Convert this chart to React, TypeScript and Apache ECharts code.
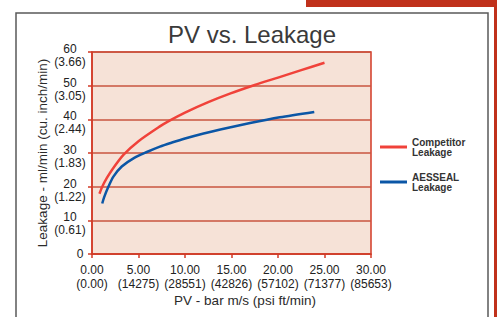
import React, { useEffect, useRef } from "react";
import * as echarts from "echarts";

const competitorX = [0.8, 1.1, 1.6, 2.2, 3.4, 5, 7.3, 8.2, 10, 12.5, 14.9, 17.5, 20, 22.5, 25];
const competitorY = [17.9, 20, 22.6, 25.2, 29.5, 33.5, 37.9, 39.4, 42, 45.1, 47.7, 50.2, 52.4, 54.6, 56.8];
const aessealX = [1.1, 1.3, 1.7, 2.3, 3.2, 4.5, 5.9, 7.3, 8.6, 10, 12, 13.8, 17, 20.2, 23.9];
const aessealY = [15.0, 16.8, 19.6, 23.0, 26.0, 28.5, 30.3, 31.9, 33.1, 34.3, 35.8, 37.0, 38.9, 40.6, 42.2];

const yTicks = [0, 10, 20, 30, 40, 50, 60];
const yTickSecondary = ["", "(0.61)", "(1.22)", "(1.83)", "(2.44)", "(3.05)", "(3.66)"];
const xTicks = [0, 5, 10, 15, 20, 25, 30];
const xTickPrimary = ["0.00", "5.00", "10.00", "15.00", "20.00", "25.00", "30.00"];
const xTickSecondary = ["(0.00)", "(14275)", "(28551)", "(42826)", "(57102)", "(71377)", "(85653)"];

const seriesNames = ["Competitor\nLeakage", "AESSEAL\nLeakage"];

export default function App() {
  const ref = useRef<HTMLDivElement>(null);
  useEffect(() => {
    if (!ref.current) return;
    const chart = echarts.init(ref.current, null, { renderer: "svg" });
    const font = "Liberation Sans, Arial, sans-serif";
    const axisRed = "#d23a26";
    const gridRed = "#c9543f";
    chart.setOption({
      animation: false,
      textStyle: { fontFamily: font },
      grid: {
        left: 92,
        top: 52,
        width: 279,
        height: 202,
        show: true,
        backgroundColor: "#f6e2d7",
        borderColor: axisRed,
        borderWidth: 1.5,
      },
      legend: {
        orient: "vertical",
        left: 380,
        top: 137,
        padding: 0,
        icon: "rect",
        itemWidth: 27,
        itemHeight: 3,
        itemGap: 15,
        data: seriesNames,
        textStyle: {
          fontFamily: font,
          fontSize: 10,
          fontWeight: "bold",
          color: "#333",
          lineHeight: 10,
        },
      },
      xAxis: {
        type: "value",
        min: 0,
        max: 30,
        interval: 5,
        axisLine: { show: true, lineStyle: { color: axisRed, width: 1.5 } },
        axisTick: { show: true, length: 4, lineStyle: { color: axisRed, width: 1.5 } },
        splitLine: { show: false },
        axisLabel: {
          margin: 9,
          fontSize: 12,
          lineHeight: 14,
          color: "#222",
          fontFamily: font,
          formatter: (v: number) => {
            const i = xTicks.indexOf(v);
            return i >= 0 ? xTickPrimary[i] + "\n" + xTickSecondary[i] : "";
          },
        },
      },
      yAxis: {
        type: "value",
        min: 0,
        max: 60,
        interval: 10,
        axisLine: { show: true, lineStyle: { color: axisRed, width: 1.5 } },
        axisTick: { show: true, length: 4, lineStyle: { color: axisRed, width: 1.5 } },
        splitLine: { show: true, lineStyle: { color: gridRed, width: 1.5 } },
        axisLabel: {
          margin: 22,
          align: "center",
          fontSize: 12,
          lineHeight: 13,
          color: "#222",
          fontFamily: font,
          padding: [7, 0, 0, 0],
          formatter: (v: number) => {
            const i = yTicks.indexOf(v);
            if (i < 0) return "";
            if (v === 0) return "{z|0}";
            return String(yTicks[i]) + "\n" + yTickSecondary[i];
          },
          rich: {
            z: { fontSize: 12, color: "#222", fontFamily: font, padding: [0, 0, 7, 20] },
          },
        },
      },
      series: [
        {
          name: seriesNames[0],
          type: "line",
          smooth: 0.25,
          showSymbol: false,
          color: "#f0423a",
          lineStyle: { width: 2.5, color: "#f0423a" },
          data: competitorX.map((x, i) => [x, competitorY[i]]),
        },
        {
          name: seriesNames[1],
          type: "line",
          smooth: 0.25,
          showSymbol: false,
          color: "#0b56a6",
          lineStyle: { width: 2.5, color: "#0b56a6" },
          data: aessealX.map((x, i) => [x, aessealY[i]]),
        },
      ],
      graphic: [
        {
          type: "rect",
          shape: { x: 16, y: 13, width: 472, height: 330 },
          style: { fill: "none", stroke: "#5a5a5a", lineWidth: 1.5 },
          z: -10,
        },
        {
          type: "rect",
          shape: { x: 306, y: 0, width: 191, height: 7 },
          style: { fill: "#c0311b" },
        },
        {
          type: "rect",
          shape: { x: 494, y: 0, width: 3, height: 317 },
          style: { fill: "#c0311b" },
        },
        {
          type: "text",
          x: 252,
          y: 34,
          style: {
            text: "PV vs. Leakage",
            fontFamily: font,
            fontSize: 24,
            fill: "#3a3a3a",
            textAlign: "center",
            textVerticalAlign: "middle",
          },
        },
        {
          type: "text",
          x: 245,
          y: 300,
          style: {
            text: "PV - bar m/s (psi ft/min)",
            fontFamily: font,
            fontSize: 13.5,
            fill: "#2a2a2a",
            textAlign: "center",
            textVerticalAlign: "middle",
          },
        },
        {
          type: "text",
          x: 42,
          y: 153,
          rotation: Math.PI / 2,
          style: {
            text: "Leakage - ml/min (cu. inch/min)",
            fontFamily: font,
            fontSize: 13.5,
            fill: "#2a2a2a",
            textAlign: "center",
            textVerticalAlign: "middle",
          },
        },
      ],
    });
    return () => chart.dispose();
  }, []);
  return (
    <div
      ref={ref}
      style={{ position: "fixed", left: 0, top: 0, width: 497, height: 317, background: "#fff" }}
    />
  );
}
